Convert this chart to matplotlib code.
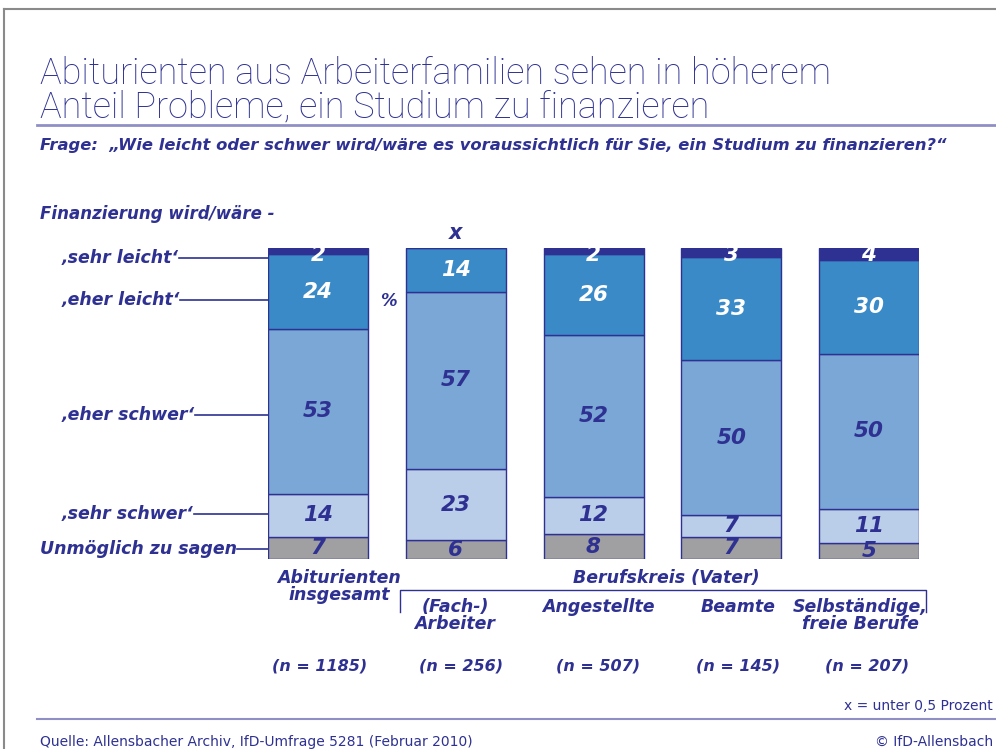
import matplotlib.pyplot as plt
from matplotlib.lines import Line2D

# data
groups = ['Abiturienten insgesamt', '(Fach-) Arbeiter', 'Angestellte', 'Beamte', 'Selbständige, freie Berufe']
n_labels = ['(n = 1185)', '(n = 256)', '(n = 507)', '(n = 145)', '(n = 207)']
categories = ['Unmöglich zu sagen', '‚sehr schwer‘', '‚eher schwer‘', '‚eher leicht‘', '‚sehr leicht‘']
unmoeglich = [7, 6, 8, 7, 5]
sehr_schwer = [14, 23, 12, 7, 11]
eher_schwer = [53, 57, 52, 50, 50]
eher_leicht = [24, 14, 26, 33, 30]
sehr_leicht = [2, 0, 2, 3, 4]

navy = '#2e3192'
colors = ['#a0a0a2', '#bacde9', '#7ba7d7', '#3a8ac8', '#2e3192']
txt_colors = [navy, navy, navy, 'white', 'white']
series = [unmoeglich, sehr_schwer, eher_schwer, eher_leicht, sehr_leicht]

W, H = 996, 749
fig = plt.figure(figsize=(W / 100, H / 100), dpi=100)

# overlay axes in pixel coordinates for text / decoration
bg = fig.add_axes([0, 0, 1, 1])
bg.set_xlim(0, W)
bg.set_ylim(H, 0)
bg.axis('off')

# bar axes
bl, br, bt, bb = 268, 919, 248, 559
ax = fig.add_axes([bl / W, 1 - bb / H, (br - bl) / W, (bb - bt) / H])
step = (br - bl - 100) / 4
bw = 100 / step
ax.set_xlim(-bw / 2, 4 + bw / 2)
ax.set_ylim(0, 100)
ax.axis('off')

x = list(range(len(groups)))
bottom = [0] * len(groups)
for vals, col, tc in zip(series, colors, txt_colors):
    ax.bar(x, vals, bw, bottom=bottom, color=col, edgecolor=navy, linewidth=1.0)
    for i, v in enumerate(vals):
        if v == 0:
            continue
        yc = bottom[i] + v / 2
        if col == colors[-1]:
            yc = min(yc, 97.6)
        ax.text(i, yc, str(v), ha='center', va='center', color=tc,
                fontsize=15.5, fontweight='bold', style='italic')
    bottom = [b + v for b, v in zip(bottom, vals)]

# "x" for under 0,5 percent
ax.text(1, 101.5, 'x', ha='center', va='bottom', color=navy, fontsize=15,
        fontweight='bold', style='italic')

# border of slide
bg.add_line(Line2D([4, 4], [9, H], color='#8a8a8a', lw=1.5))
bg.add_line(Line2D([4, W], [9, 9], color='#8a8a8a', lw=1.5))

# title
bg.text(40, 84, 'Abiturienten aus Arbeiterfamilien sehen in höherem', fontsize=26,
        color=navy, family='Roboto', fontweight='light', va='baseline')
bg.text(40, 117, 'Anteil Probleme, ein Studium zu finanzieren', fontsize=26,
        color=navy, family='Roboto', fontweight='light', va='baseline')
bg.add_line(Line2D([37, W], [125, 125], color='#8f8fc6', lw=2))
bg.text(40, 150, 'Frage:  „Wie leicht oder schwer wird/wäre es voraussichtlich für Sie, ein Studium zu finanzieren?“',
        fontsize=11.8, color=navy, fontweight='bold', style='italic', va='baseline')
bg.text(40, 219, 'Finanzierung wird/wäre -', fontsize=12, color=navy,
        fontweight='bold', style='italic', va='baseline')

# left labels with leader lines
lab_y = [549, 514, 415, 300, 258]
lab_x = [40, 62, 62, 62, 62]
labels = []
for name, ly, lx in zip(categories, lab_y, lab_x):
    t = bg.text(lx, ly, name, fontsize=12.5, color=navy, fontweight='bold',
                style='italic', va='center')
    labels.append((t, ly))

bg.text(388, 301, '%', fontsize=12, color=navy, fontweight='bold',
        style='italic', ha='center', va='center')

# group labels
lab_kw = dict(fontsize=12.5, color=navy, fontweight='bold', style='italic',
              ha='center', va='top', linespacing=0.95)
bg.text(339, 569, 'Abiturienten\ninsgesamt', **lab_kw)
bg.text(666, 569, 'Berufskreis (Vater)', **lab_kw)
bg.add_line(Line2D([400, 400, 926, 926], [612, 590, 590, 612], color=navy, lw=1))
sub_x = [455, 598, 738, 860]
sub_lab = ['(Fach-)\nArbeiter', 'Angestellte', 'Beamte', 'Selbständige,\nfreie Berufe']
for sx, sl in zip(sub_x, sub_lab):
    bg.text(sx, 598, sl, **lab_kw)

# n labels
n_x = [320, 461, 598, 738, 867]
for nx, nl in zip(n_x, n_labels):
    bg.text(nx, 666, nl, fontsize=11.5, color=navy, fontweight='bold',
            style='italic', ha='center', va='center')

bg.text(W - 3, 706, 'x = unter 0,5 Prozent', fontsize=10, color=navy, va='center', ha='right')
bg.add_line(Line2D([37, W], [719, 719], color='#8f8fc6', lw=1.5))
bg.text(40, 742, 'Quelle: Allensbacher Archiv, IfD-Umfrage 5281 (Februar 2010)',
        fontsize=10, color=navy, va='center')
bg.text(W - 3, 742, '© IfD-Allensbach', fontsize=10, color=navy, va='center', ha='right')

# leader lines start right after label text
fig.canvas.draw()
r = fig.canvas.get_renderer()
inv = bg.transData.inverted()
for t, ly in labels:
    ext = t.get_window_extent(r)
    xe = inv.transform((ext.x1, ext.y0))[0]
    bg.add_line(Line2D([xe, 273], [ly, ly], color=navy, lw=1.2))

fig.savefig('out.png', dpi=100)
